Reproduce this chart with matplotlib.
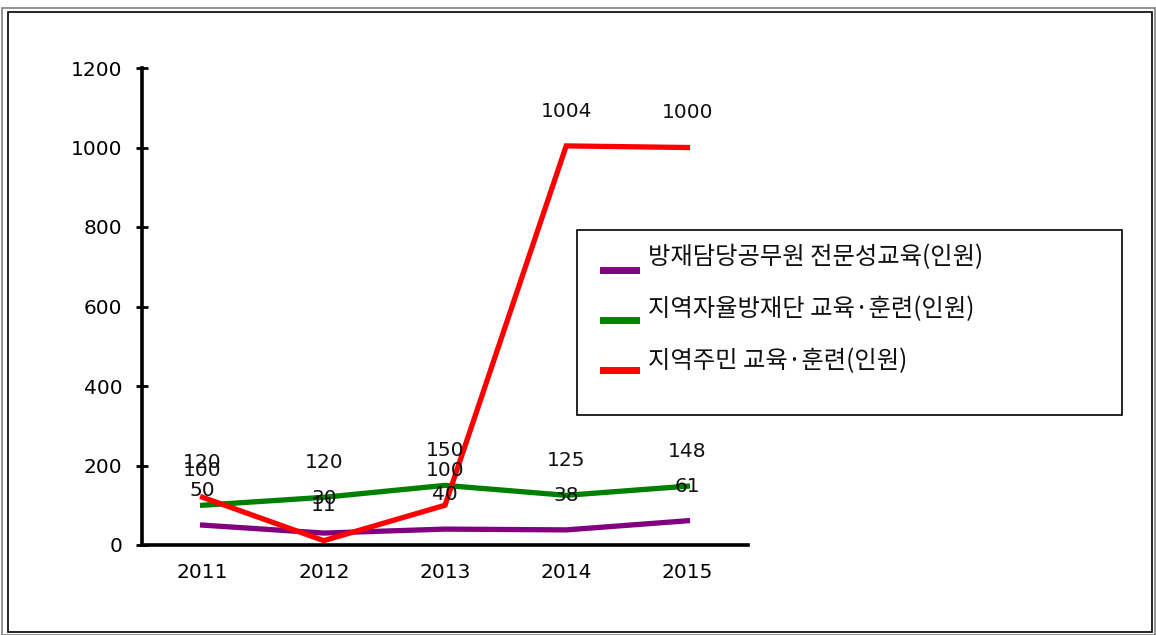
import matplotlib
matplotlib.use("Agg")
import matplotlib.pyplot as plt
from matplotlib.patches import Rectangle
from matplotlib.lines import Line2D

plt.rcParams['font.family'] = ['DejaVu Sans', 'Noto Sans CJK KR']

# 데이터
years = ['2011', '2012', '2013', '2014', '2015']
officials = [50, 30, 40, 38, 61]
selfdefense = [100, 120, 150, 125, 148]
residents = [120, 11, 100, 1004, 1000]

series_names = ['방재담당공무원 전문성교육(인원)',
                '지역자율방재단 교육·훈련(인원)',
                '지역주민 교육·훈련(인원)']
colors = ['#800080', '#008000', '#FF0000']
yticks = [0, 200, 400, 600, 800, 1000, 1200]

W, H = 1156, 635
fig = plt.figure(figsize=(W / 100, H / 100), dpi=100)

# 바깥 테두리
fig.patches.append(Rectangle((2 / W, 0.0), 1 - 3 / W, 1 - 8 / H,
                             transform=fig.transFigure, fill=False,
                             edgecolor='#808080', linewidth=1.2))
fig.patches.append(Rectangle((8 / W, 3 / H), 1 - 12 / W, 1 - 15 / H,
                             transform=fig.transFigure, fill=False,
                             edgecolor='black', linewidth=1.2))

ax = fig.add_axes([142 / W, 1 - 545 / H, 606 / W, (545 - 68) / H])
x = range(len(years))
for vals, c in zip([officials, selfdefense, residents], colors):
    ax.plot(x, vals, color=c, linewidth=3.8, solid_joinstyle='miter')
    for xi, v in zip(x, vals):
        ax.annotate(str(v), (xi, v), xytext=(0, 25), textcoords='offset points',
                    ha='center', va='center', fontsize=14.5, color='#111111')

ax.set_xlim(-0.5, 4.5)
ax.set_ylim(0, 1200)
ax.set_xticks(list(x))
ax.set_xticklabels(years)
ax.set_yticks(yticks)
ax.tick_params(axis='x', length=0, pad=13, labelsize=14.5)
ax.tick_params(axis='y', direction='inout', length=8, width=2, pad=10, labelsize=14.5)
for s in ['top', 'right']:
    ax.spines[s].set_visible(False)
for s in ['left', 'bottom']:
    ax.spines[s].set_linewidth(2.6)

# 범례 (직접 그림)
fig.patches.append(Rectangle((577 / W, 1 - 415 / H), 545 / W, 185 / H,
                             transform=fig.transFigure, fill=False,
                             edgecolor='black', linewidth=1.2))
for i, (name, c) in enumerate(zip(series_names, colors)):
    hy = 1 - (270 + 50 * i) / H
    fig.lines.append(Line2D([603 / W, 636 / W], [hy, hy], color=c, linewidth=5,
                            transform=fig.transFigure))
    fig.text(648 / W, 1 - (257 + 52 * i) / H, name, ha='left', va='center',
             fontsize=17.5, family=['Noto Sans CJK KR', 'DejaVu Sans'],
             color='#111111')

fig.savefig('out.png', dpi=100)
